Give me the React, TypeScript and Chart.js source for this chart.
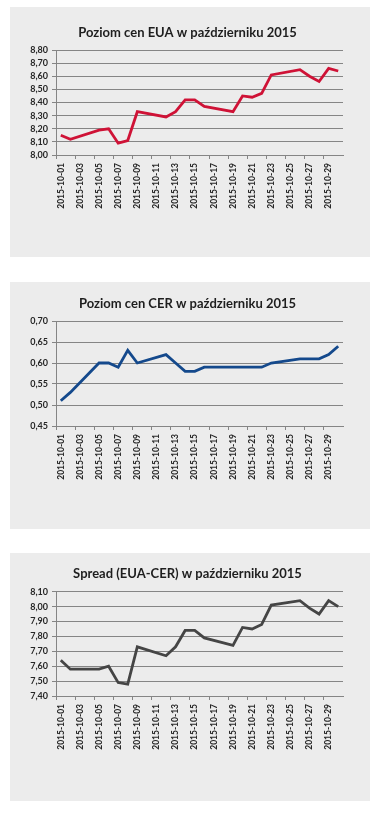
import React, { useEffect, useRef } from 'react';
import { Chart, registerables } from 'chart.js';
Chart.register(...registerables);

const FONT = 'Lato, "Open Sans", sans-serif';

// Calendar categories on the date axis (1–30 October 2015)
const calendarDays: string[] = [];
for (let d = 1; d <= 30; d++) calendarDays.push(`2015-10-${String(d).padStart(2, '0')}`);

// Trading days with quotations
const tradingDays = [
  '2015-10-01', '2015-10-02', '2015-10-05', '2015-10-06', '2015-10-07', '2015-10-08',
  '2015-10-09', '2015-10-12', '2015-10-13', '2015-10-14', '2015-10-15', '2015-10-16',
  '2015-10-19', '2015-10-20', '2015-10-21', '2015-10-22', '2015-10-23', '2015-10-26',
  '2015-10-27', '2015-10-28', '2015-10-29', '2015-10-30',
];

const euaPrices = [
  8.15, 8.12, 8.19, 8.2, 8.09, 8.11, 8.33, 8.29, 8.33, 8.42, 8.42, 8.37,
  8.33, 8.45, 8.44, 8.47, 8.61, 8.65, 8.6, 8.56, 8.66, 8.64,
];
const cerPrices = [
  0.51, 0.53, 0.6, 0.6, 0.59, 0.63, 0.6, 0.62, 0.6, 0.58, 0.58, 0.59,
  0.59, 0.59, 0.59, 0.59, 0.6, 0.61, 0.61, 0.61, 0.62, 0.64,
];
const spreadValues = [
  7.64, 7.58, 7.58, 7.6, 7.49, 7.48, 7.73, 7.67, 7.73, 7.84, 7.84, 7.79,
  7.74, 7.86, 7.85, 7.88, 8.01, 8.04, 7.99, 7.95, 8.04, 8.0,
];

const titles = [
  'Poziom cen EUA w październiku 2015',
  'Poziom cen CER w październiku 2015',
  'Spread (EUA-CER) w październiku 2015',
];

type Cfg = {
  title: string;
  values: number[];
  color: string;
  min: number;
  max: number;
  step: number;
  top: number;
  height: number;
  titleY: number;
  plotTop: number;
  plotBottom: number;
};

function PanelChart(p: Cfg) {
  const ref = useRef<HTMLCanvasElement>(null);
  useEffect(() => {
    if (!ref.current) return;
    const data = calendarDays.map((d) => {
      const i = tradingDays.indexOf(d);
      return i >= 0 ? p.values[i] : null;
    });
    const tTop = p.titleY - 7.8;
    const tBottom = p.plotTop - tTop - 15.6;
    const gridColor = '#858585';
    const chart = new Chart(ref.current, {
      type: 'line',
      data: {
        labels: calendarDays,
        datasets: [
          {
            data,
            borderColor: p.color,
            borderWidth: 2.8,
            pointRadius: 0,
            tension: 0,
            spanGaps: true,
            fill: false,
          },
        ],
      },
      options: {
        responsive: false,
        animation: false,
        layout: { padding: { left: 0, right: 5, top: 0, bottom: 0 } },
        plugins: {
          legend: { display: false },
          tooltip: { enabled: false },
          title: {
            display: true,
            text: p.title,
            color: '#1e1e1e',
            font: { family: FONT, size: 13, weight: 'bold', lineHeight: 1.2 },
            padding: { top: tTop, bottom: tBottom },
          },
        },
        scales: {
          x: {
            offset: true,
            grid: {
              offset: true,
              drawOnChartArea: false,
              drawTicks: true,
              tickLength: 4,
              color: (ctx: any) => (ctx.index % 2 === 0 ? gridColor : 'rgba(0,0,0,0)'),
            },
            border: { color: gridColor, width: 1 },
            ticks: {
              autoSkip: false,
              maxRotation: 90,
              minRotation: 90,
              padding: 4,
              color: '#262626',
              font: { family: FONT, size: 8.5, weight: 'bold' },
              callback: (_v: any, i: number) => (i % 2 === 0 ? calendarDays[i] : ''),
            },
            afterFit: (s: any) => {
              s.height = p.height - p.plotBottom;
            },
          },
          y: {
            min: p.min,
            max: p.max,
            grid: { color: gridColor, tickLength: 4, lineWidth: 1 },
            border: { color: gridColor, width: 1 },
            ticks: {
              stepSize: p.step,
              autoSkip: false,
              padding: 4,
              color: '#262626',
              font: { family: FONT, size: 9, weight: 'bold' },
              callback: (v: any) => Number(v).toFixed(2).replace('.', ','),
            },
            afterFit: (s: any) => {
              s.width = 46;
            },
          },
          spacer: {
            type: 'linear',
            position: 'right',
            display: true,
            grid: { display: false, drawTicks: false },
            border: { display: false },
            ticks: { display: false },
            afterFit: (s: any) => {
              s.width = 22;
            },
          },
        },
      },
    });
    return () => chart.destroy();
  }, []);
  return (
    <div
      style={{
        position: 'absolute',
        left: 10,
        top: p.top,
        width: 360,
        height: p.height,
        background: '#ececec',
      }}
    >
      <canvas ref={ref} width={360} height={p.height} style={{ display: 'block' }} />
    </div>
  );
}

export default function App() {
  return (
    <div style={{ position: 'absolute', left: 0, top: 0, width: 380, height: 819, background: '#fff' }}>
      <PanelChart
        title={titles[0]}
        values={euaPrices}
        color="#cf1236"
        min={8.0}
        max={8.8}
        step={0.1}
        top={7}
        height={250}
        titleY={26}
        plotTop={43}
        plotBottom={148}
      />
      <PanelChart
        title={titles[1]}
        values={cerPrices}
        color="#14498c"
        min={0.45}
        max={0.7}
        step={0.05}
        top={282}
        height={247}
        titleY={22}
        plotTop={39}
        plotBottom={144}
      />
      <PanelChart
        title={titles[2]}
        values={spreadValues}
        color="#454545"
        min={7.4}
        max={8.1}
        step={0.1}
        top={553}
        height={248}
        titleY={21}
        plotTop={38.7}
        plotBottom={143}
      />
    </div>
  );
}
